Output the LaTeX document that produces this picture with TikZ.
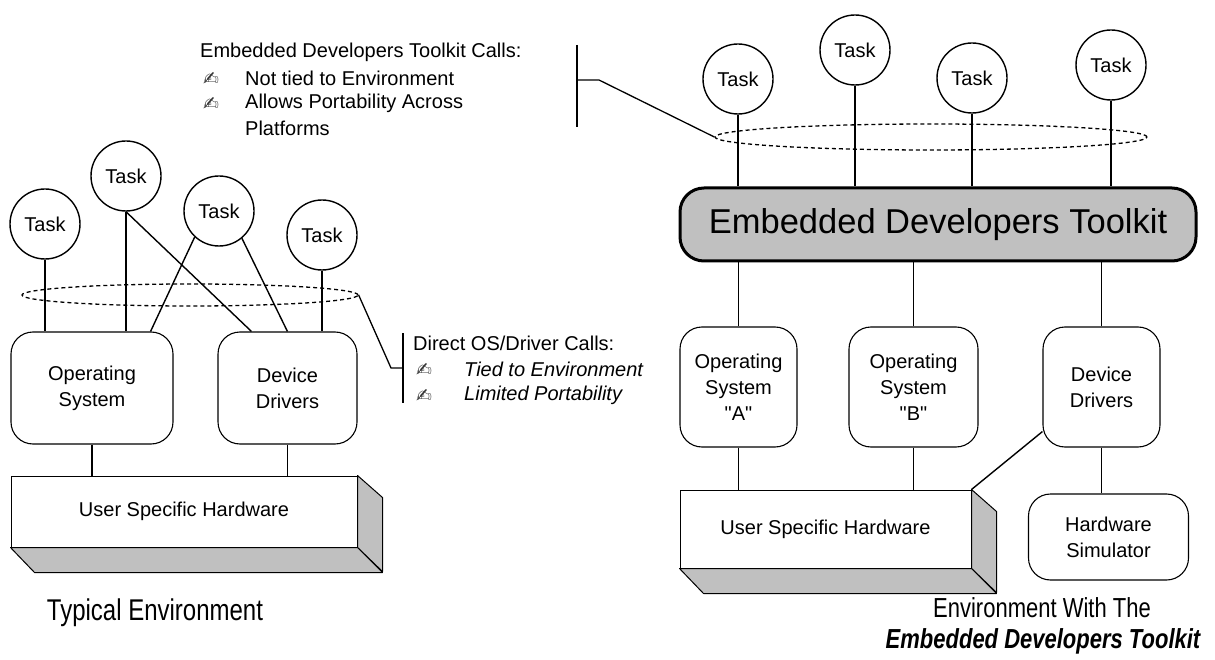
\documentclass[tikz,border=0pt]{standalone}
\usepackage{graphicx}
\usepackage{fontspec}
\setmainfont{Liberation Sans}
\newfontfamily\symfont{DejaVu Sans}
\newfontfamily\qfont{Liberation Sans}
\usetikzlibrary{shapes.geometric}
\definecolor{kitgray}{HTML}{C0C0C0}
\newcommand{\tallcap}[1]{\scalebox{1}[1.25]{#1}}
\newcommand{\sq}{{\qfont\symbol{34}}}

\tikzset{
  task/.style={circle, draw, line width=1.4pt, minimum size=70pt, inner sep=0pt,
    font=\fontsize{20}{24}\selectfont},
  sysbox/.style={draw, rounded corners=22pt, line width=1.1pt, align=center,
    inner sep=0pt, font=\fontsize{20}{26}\selectfont},
  kitbox/.style={draw, fill=kitgray, rounded corners=24pt, line width=3pt,
    inner sep=0pt, font=\fontsize{34.5}{38}\selectfont},
  hwfront/.style={draw, line width=1pt, fill=white, inner sep=0pt,
    font=\fontsize{20}{24}\selectfont},
  hwface/.style={draw, line width=1pt, fill=kitgray, line join=round},
  link/.style={line width=1.4pt},
  ring/.style={ellipse, draw, line width=1.3pt, dash pattern=on 4pt off 3pt,
    inner sep=0pt},
  leader/.style={line width=1.3pt},
  note/.style={inner sep=0pt, anchor=west, font=\fontsize{20}{24}\selectfont},
  inote/.style={note, font=\fontsize{20}{24}\selectfont\itshape},
  pen/.style={inner sep=0pt, text=black!80, font=\symfont\fontsize{19}{22}\selectfont},
  caption/.style={inner sep=0pt, font=\fontsize{24}{28}\selectfont},
}

\begin{document}
\begin{tikzpicture}[x=1pt, y=-1pt]
\useasboundingbox (0,0) rectangle (1215,660);

% ---------------- typical environment ----------------
\node[task] (lt1) at (45,224) {Task};
\node[task] (lt2) at (126,176) {Task};
\node[task] (lt3) at (219,211) {Task};
\node[task] (lt4) at (322,235) {Task};
\node[ring, minimum width=336pt, minimum height=22pt] (lring) at (190,295) {};

\node[sysbox, minimum width=162pt, minimum height=112pt] (los) at (92,388) {Operating\\System};
\node[sysbox, minimum width=139pt, minimum height=112pt] (ldd) at (287.5,388) {Device\\Drivers};

\draw[link] (lt1) -- (lt1 |- los.north);
\draw[link] (lt2) -- (lt2 |- los.north);
\draw[link] (lt2.south) -- ([xshift=34pt]ldd.north west);
\draw[link] (lt3.227) -- ([xshift=-23pt]los.north east);
\draw[link] (lt3.310) -- ([xshift=70pt]ldd.north west);
\draw[link] (lt4) -- (lt4 |- ldd.north);

\node[hwfront, minimum width=346pt, minimum height=71pt] (lhw) at (184,511.5) {User Specific Hardware};
\draw[hwface] (lhw.north east) -- ++(25,22) -- ++(0,74) -- (lhw.south east) -- cycle;
\draw[hwface] (lhw.south west) -- (lhw.south east) -- ++(25,25)
  -- ([shift={(24,25)}]lhw.south west) -- cycle;

\draw[link] (los.south) -- (los.south |- lhw.north);
\draw[link] (ldd.south) -- (ldd.south |- lhw.north);

\node[caption] (lcap) at (155,613) {\tallcap{Typical Environment}};

% call note for direct OS/driver access
\coordinate (lbend) at (391,368);
\coordinate (lbarmid) at (403,368);
\coordinate (lbartop) at (403,333);
\coordinate (lbarbot) at (403,403);
\draw[leader] (lring.east) -- (lbend) -- (lbarmid);
\draw[leader] (lbartop) -- (lbarbot);
\node[note] (dtitle) at (413,343) {Direct OS/Driver Calls:};
\node[pen] (dp1) at (424,370) {✍};
\node[pen] (dp2) at (424,396) {✍};
\node[inote] (dn1) at (464,369) {Tied to Environment};
\node[inote] (dn2) at (464,395) {Limited Portability};

% ---------------- environment with the toolkit ----------------
\node[task] (rt1) at (738,79) {Task};
\node[task] (rt2) at (855,50) {Task};
\node[task] (rt3) at (972,78) {Task};
\node[task] (rt4) at (1111,65) {Task};
\node[ring, minimum width=432pt, minimum height=26pt] (rring) at (931,137) {};

\node[kitbox, minimum width=516pt, minimum height=73pt] (kit) at (938,224.5) {Embedded Developers Toolkit};

\draw[link] (rt1) -- (rt1 |- kit.north);
\draw[link] (rt2) -- (rt2 |- kit.north);
\draw[link] (rt3) -- (rt3 |- kit.north);
\draw[link] (rt4) -- (rt4 |- kit.north);

\node[sysbox, minimum width=117pt, minimum height=120pt] (rosa) at (738.5,387) {Operating\\System\\\sq A\sq};
\node[sysbox, minimum width=129pt, minimum height=120pt] (rosb) at (913.5,387) {Operating\\System\\\sq B\sq};
\node[sysbox, minimum width=117pt, minimum height=120pt] (rdd) at (1101.5,387) {Device\\Drivers};

\draw[link] (rosa.north) -- (rosa.north |- kit.south);
\draw[link] (rosb.north) -- (rosb.north |- kit.south);
\draw[link] (rdd.north) -- (rdd.north |- kit.south);

\node[hwfront, minimum width=291pt, minimum height=78pt] (rhw) at (825.5,529) {User Specific Hardware};
\draw[hwface] (rhw.north east) -- ++(25,22) -- ++(0,81) -- (rhw.south east) -- cycle;
\draw[hwface] (rhw.south west) -- (rhw.south east) -- ++(25,25)
  -- ([shift={(24,25)}]rhw.south west) -- cycle;

\node[sysbox, minimum width=160pt, minimum height=86pt] (sim) at (1108.5,537) {Hardware\\Simulator};

\draw[link] (rosa.south) -- (rosa.south |- rhw.north);
\draw[link] (rosb.south) -- (rosb.south |- rhw.north);
\draw[link] (rdd.south) -- (rdd.south |- sim.north);
\draw[link] ([yshift=16pt]rdd.south west) -- (rhw.north east);

\node[caption, font=\fontsize{22}{26}\selectfont] (rcap1) at (1042,608) {\tallcap{Environment With The}};
\node[caption, font=\fontsize{22}{26}\selectfont\bfseries\itshape] (rcap2) at (1043,641) {\tallcap{Embedded Developers Toolkit}};

% call note for toolkit access
\coordinate (tbend) at (599,80);
\coordinate (tbarmid) at (577,80);
\coordinate (tbartop) at (577,45);
\coordinate (tbarbot) at (577,127);
\draw[leader] (rring.west) -- (tbend) -- (tbarmid);
\draw[leader] (tbartop) -- (tbarbot);
\node[note] (etitle) at (200,52) {Embedded Developers Toolkit Calls:};
\node[pen] (ep1) at (211,79) {✍};
\node[pen] (ep2) at (211,104) {✍};
\node[note] (en1) at (245,78) {Not tied to Environment};
\node[note] (en2) at (245,103) {Allows Portability Across};
\node[note] (en3) at (245,128) {Platforms};
\end{tikzpicture}
\end{document}
